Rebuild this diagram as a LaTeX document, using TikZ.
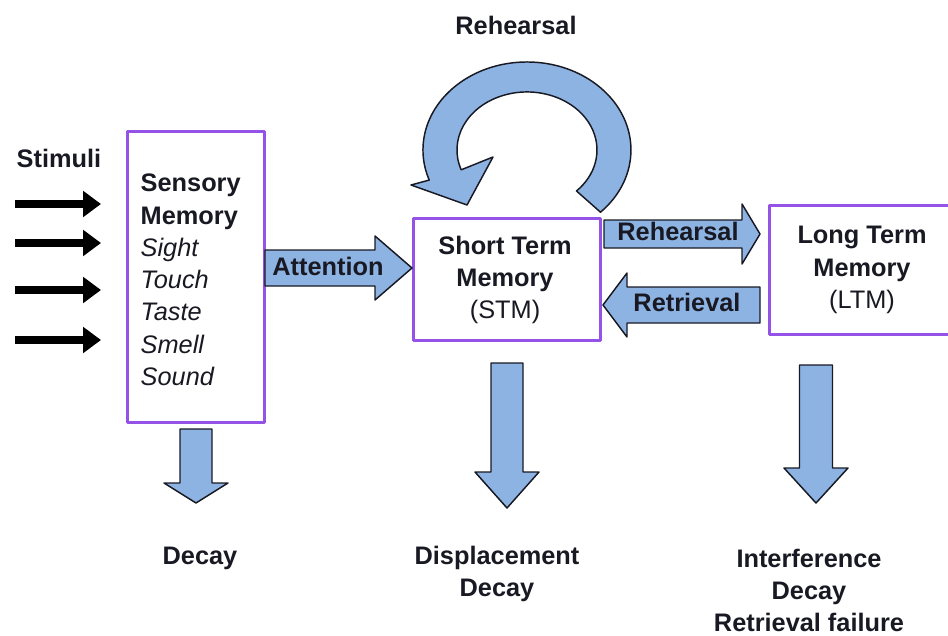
\documentclass[tikz,border=0pt]{standalone}
\usepackage{fontspec}
\setmainfont{Liberation Sans}
\usetikzlibrary{arrows.meta}
\definecolor{boxpurple}{RGB}{148,82,230}
\definecolor{arrowblue}{RGB}{141,179,226}
\definecolor{ink}{RGB}{25,25,35}
% tail x, tip x, y, half shaft, half head, head length
\newcommand\harrow[6]{%
  \draw[barrow] (#1,{#3-#4}) -- ({#2-#6},{#3-#4}) -- ({#2-#6},{#3-#5}) -- (#2,#3)
    -- ({#2-#6},{#3+#5}) -- ({#2-#6},{#3+#4}) -- (#1,{#3+#4}) -- cycle;}
% x, tail y, tip y, half shaft, half head, head length
\newcommand\varrow[6]{%
  \draw[barrow] ({#1-#4},#2) -- ({#1-#4},{#3-#6}) -- ({#1-#5},{#3-#6}) -- (#1,#3)
    -- ({#1+#5},{#3-#6}) -- ({#1+#4},{#3-#6}) -- ({#1+#4},#2) -- cycle;}
\begin{document}
\begin{tikzpicture}[x=.75pt,y=-.75pt,line join=round,
  every node/.style={text=ink,font=\fontsize{19}{24.2}\selectfont},
  membox/.style={draw=boxpurple,line width=2.25pt,fill=white},
  barrow/.style={draw=ink,line width=1.1pt,fill=arrowblue},
  stim/.style={line width=6pt,-{Triangle[length=13.5pt,width=19pt]}},
  lbl/.style={font=\fontsize{19}{24}\selectfont\bfseries}]
  \useasboundingbox (0,0) rectangle (948,635);
  \node[lbl] (rehtop) at (516,25) {Rehearsal};
  \draw[barrow] (600.5,212.2) arc[start angle=45,end angle=-200,x radius=104,y radius=88]
    -- (411,185) -- (467,205) -- (493,157) -- (461.2,169.8)
    arc[start angle=-200,end angle=45,x radius=70,y radius=58] -- cycle;
  \node[lbl,anchor=west] (stimuli) at (12,158) {Stimuli};
  \foreach \y [count=\i] in {204,243,290,340} {
    \coordinate (st\i) at (15,\y);
    \coordinate (sh\i) at (101,\y);
    \draw[stim] (st\i) -- (sh\i);
  }
  \node[membox,minimum width=137*.75pt,minimum height=291*.75pt] (sm) at (195.5,276.5) {};
  \node[anchor=west,align=left] (smtext) at (136,280)
    {\bfseries Sensory\\\bfseries Memory\\\itshape Sight\\\itshape Touch\\\itshape Taste\\\itshape Smell\\\itshape Sound};
  \node[membox,minimum width=187*.75pt,minimum height=122*.75pt] (stm) at (506.5,279) {};
  \node[align=center] (stmtext) at (505,280) {\bfseries Short Term\\\bfseries Memory\\(STM)};
  \node[membox,minimum width=190*.75pt,minimum height=129*.75pt] (ltm) at (864,269.5) {};
  \node[align=center] (ltmtext) at (862,270) {\bfseries Long Term\\\bfseries Memory\\(LTM)};
  \harrow{265}{412}{268}{18}{32}{37}
  \node[lbl] (att) at (328,266) {Attention};
  \harrow{604}{760}{234}{14}{30}{18}
  \node[lbl] (reh) at (678,231) {Rehearsal};
  \harrow{760}{603}{305}{18}{32}{(-24)}
  \node[lbl] (ret) at (687,302) {Retrieval};
  \varrow{196}{429}{503}{16}{32}{20}
  \varrow{507}{363}{508}{16}{32}{36}
  \varrow{816}{365}{503}{16.5}{32}{35}
  \node[lbl] (smloss) at (200,558) {Decay};
  \node[lbl,align=center] (stmloss) at (497,574) {Displacement\\Decay};
  \node[lbl,align=center] (ltmloss) at (809,590) {Interference\\Decay\\Retrieval failure};
\end{tikzpicture}
\end{document}
